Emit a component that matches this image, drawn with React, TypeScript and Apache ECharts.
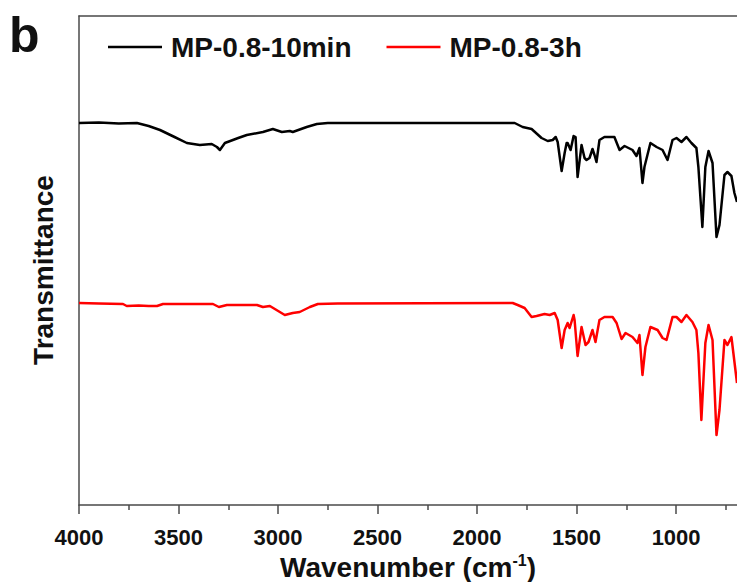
import React, { useEffect, useRef } from "react";
import * as echarts from "echarts";

const seriesNames = ["MP-0.8-10min", "MP-0.8-3h"];
const majorTicks = [4000, 3500, 3000, 2500, 2000, 1500, 1000];
const minorTicks = [3750, 3250, 2750, 2250, 1750, 1250, 750];

// MP-0.8-10min (black), transmittance in arbitrary units
const wn10 = [4000, 3900, 3800, 3709, 3650, 3593, 3520, 3458, 3393, 3333, 3307, 3292, 3267, 3200, 3157, 3076, 3026, 2981, 2941, 2926, 2856, 2805, 2750, 1811, 1771, 1726, 1676, 1645, 1620, 1605, 1595, 1575, 1560, 1550, 1545, 1530, 1515, 1505, 1495, 1475, 1460, 1450, 1435, 1420, 1410, 1400, 1385, 1360, 1310, 1284, 1259, 1219, 1199, 1184, 1169, 1159, 1129, 1098, 1068, 1043, 1018, 998, 973, 948, 923, 898, 888, 868, 853, 837, 817, 797, 782, 757, 742, 722, 707, 694];
const t10 = [382, 382.5, 381.5, 382, 379, 375, 368, 362, 360, 361, 358, 355, 362, 367, 370, 373, 376, 373, 374, 373, 378, 381, 382, 382, 378, 376, 367, 364, 365, 368, 363, 334, 352, 362, 362, 355, 369, 368, 328, 360, 347, 345, 347, 356, 350, 343, 365, 368, 368, 355, 359, 355, 349, 357, 322, 338, 362, 358, 355, 345, 365, 367, 363, 368, 362, 357, 338, 278, 338, 354, 342, 268, 280, 330, 333, 329, 312, 303];

// MP-0.8-3h (red)
const wn3h = [4000, 3900, 3779, 3760, 3700, 3650, 3608, 3578, 3400, 3327, 3297, 3257, 3106, 3076, 3041, 2991, 2966, 2926, 2891, 2840, 2800, 2700, 1821, 1796, 1761, 1726, 1701, 1661, 1635, 1610, 1595, 1575, 1560, 1545, 1535, 1515, 1510, 1495, 1475, 1455, 1440, 1420, 1405, 1385, 1360, 1319, 1299, 1274, 1254, 1219, 1194, 1184, 1169, 1154, 1129, 1093, 1068, 1048, 1018, 998, 973, 948, 918, 898, 888, 873, 853, 837, 817, 797, 782, 757, 742, 722, 694];
const t3h = [202, 201.5, 201, 199, 199.5, 199, 199, 201, 201, 201, 198, 200, 200, 198, 199, 193, 190, 192, 193, 198, 201, 201.5, 202, 200, 197, 188, 189, 191, 190, 192, 185, 157, 175, 182, 177, 190, 185, 149, 178, 160, 163, 175, 163, 185, 188, 188, 182, 166, 172, 168, 162, 170, 130, 158, 178, 175, 167, 165, 188, 188, 183, 190, 183, 175, 152, 85, 162, 180, 165, 70, 95, 165, 160, 168, 122];

const FONT = "'Liberation Sans', Arial, Helvetica, sans-serif";
const AXIS_COLOR = "#4a4a4a";

export default function App() {
  const ref = useRef<HTMLDivElement>(null);
  useEffect(() => {
    if (!ref.current) return;
    const chart = echarts.init(ref.current, undefined, { renderer: "svg" });
    const pairs = (xs: number[], ys: number[]) => xs.map((x, i) => [x, ys[i]]);
    const baseX = {
      type: "value",
      inverse: true,
      min: 694,
      max: 4000,
      splitLine: { show: false },
    };
    chart.setOption({
      animation: false,
      backgroundColor: "#ffffff",
      textStyle: { fontFamily: FONT },
      grid: { left: 79, top: 16, right: 0, bottom: 77, containLabel: false, outerBoundsMode: "none" },
      legend: {
        left: 108,
        top: 33,
        padding: 0,
        icon: "rect",
        itemWidth: 54,
        itemHeight: 2.5,
        itemGap: 35,
        data: seriesNames,
        textStyle: { fontFamily: FONT, fontSize: 28, fontWeight: "bold", color: "#111", padding: [0, 0, 0, 4] },
      },
      xAxis: [
        {
          ...baseX,
          position: "bottom",
          axisLine: { show: true, lineStyle: { color: AXIS_COLOR, width: 1.5 } },
          axisTick: { show: true, length: 9, customValues: majorTicks, lineStyle: { color: AXIS_COLOR, width: 1.5 } },
          axisLabel: {
            show: true,
            customValues: majorTicks,
            formatter: (v: number) => String(v),
            margin: 21,
            fontFamily: FONT,
            fontSize: 22,
            fontWeight: "bold",
            color: "#111",
          },
          name: "Wavenumber (cm{sup|-1})",
          nameLocation: "middle",
          nameGap: 46,
          nameTextStyle: {
            fontFamily: FONT,
            fontSize: 28,
            fontWeight: "bold",
            color: "#111",
            lineHeight: 30,
            rich: {
              sup: { fontFamily: FONT, fontSize: 16, fontWeight: "bold", color: "#111", lineHeight: 16, verticalAlign: "top" },
            },
          },
        },
        {
          ...baseX,
          position: "bottom",
          axisLine: { show: false },
          axisTick: { show: true, length: 5, customValues: minorTicks, lineStyle: { color: AXIS_COLOR, width: 1.5 } },
          axisLabel: { show: false },
        },
        {
          ...baseX,
          position: "top",
          axisLine: { show: true, lineStyle: { color: AXIS_COLOR, width: 1.5 } },
          axisTick: { show: false },
          axisLabel: { show: false },
        },
      ],
      yAxis: {
        type: "value",
        min: 0,
        max: 489,
        axisLine: { show: true, lineStyle: { color: AXIS_COLOR, width: 1.5 } },
        axisTick: { show: false },
        axisLabel: { show: false },
        splitLine: { show: false },
        name: "Transmittance",
        nameLocation: "middle",
        nameGap: 22,
        nameTextStyle: {
          fontFamily: FONT,
          fontSize: 28,
          fontWeight: "bold",
          color: "#111",
          padding: [0, 19, 0, 0],
        },
      },
      graphic: [
        {
          type: "text",
          left: 9,
          top: 10,
          style: { text: "b", font: `bold 50px ${FONT}`, fill: "#111" },
        },
      ],
      series: [
        {
          name: seriesNames[0],
          type: "line",
          data: pairs(wn10, t10),
          symbol: "none",
          lineStyle: { color: "#000000", width: 2.5, join: "round" },
          itemStyle: { color: "#000000" },
        },
        {
          name: seriesNames[1],
          type: "line",
          data: pairs(wn3h, t3h),
          symbol: "none",
          lineStyle: { color: "#ff0000", width: 2.5, join: "round" },
          itemStyle: { color: "#ff0000" },
        },
      ],
    });
    return () => chart.dispose();
  }, []);
  return (
    <div
      ref={ref}
      style={{ position: "fixed", left: 0, top: 0, width: 737, height: 582, background: "#fff" }}
    />
  );
}
